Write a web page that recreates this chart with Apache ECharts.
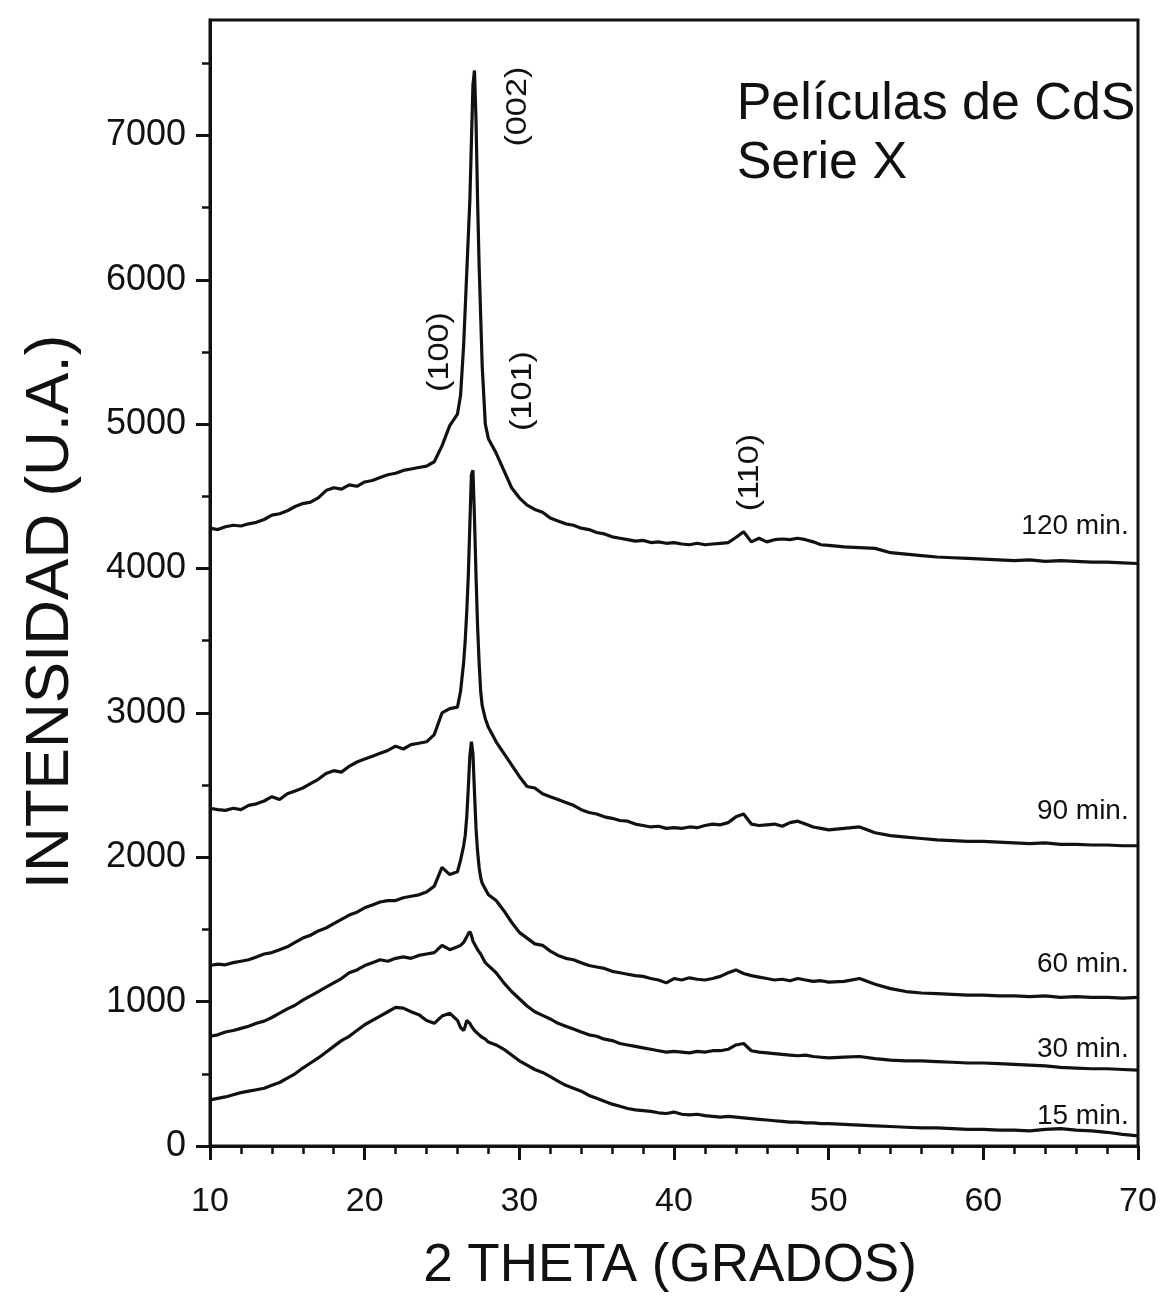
<!DOCTYPE html>
<html><head><meta charset="utf-8">
<script src="https://cdn.jsdelivr.net/npm/echarts@6/dist/echarts.min.js"></script>
<style>html,body{margin:0;padding:0;background:#fff}#c{width:1163px;height:1313px}</style>
</head><body><div id="c"></div>
<script>
// 2-theta grid (degrees)
const xs = [10,10.5,11,11.5,12,12.5,13,13.5,14,14.5,15,15.5,16,16.5,17,17.5,18,18.5,19,19.5,20,20.5,21,21.5,22,22.5,23,23.5,24,24.5,25,25.5,26,
  26.2,26.4,26.5,26.6,26.7,26.8,26.9,27,27.1,27.2,27.3,27.4,27.5,27.6,27.8,28,
  28.5,29,29.5,30,30.5,31,31.5,32,32.5,33,33.5,34,34.5,35,35.5,36,36.5,37,37.5,38,38.5,39,39.5,40,40.5,41,41.5,42,42.5,43,43.5,44,44.5,45,45.5,46,46.5,47,47.5,48,48.5,49,49.5,50,
  51,52,53,54,55,56,57,58,59,60,61,62,63,64,65,66,67,68,69,70];

const s120 = [4280,4270,4290,4300,4295,4310,4320,4340,4370,4380, 4400,4430,4450,4460,4490,4540,4560,4550,4580,4570, 4600,4610,4630,4650,4660,4680,4690,4700,4710,4740, 4850,4990,5070,
  5200,5550,5800,6050,6300,6550,6950,7350,7450,7100,6550,6100,5750,5400,5000,4900,
  4800,4680,4560,4490,4440,4410,4390,4350,4330,4310, 4300,4280,4270,4250,4240,4220,4210,4200,4190,4195, 4180,4185,4175,4180,4170,4165,4175,4165,4170,4175, 4180,4215,4255,4185,4210,4185,4200,4205,4200,4210, 4200,4185,4165,4160,
  4150,4145,4140,4110,4100,4090,4080,4075,4070,4065, 4060,4055,4060,4050,4055,4050,4045,4045,4040,4035];

const s90 = [2340,2330,2325,2340,2330,2360,2370,2390,2420,2400, 2440,2460,2480,2510,2540,2580,2600,2590,2630,2660, 2680,2700,2720,2740,2770,2750,2780,2790,2800,2850, 3000,3030,3040,
  3150,3350,3500,3700,3950,4300,4650,4680,4350,3950,3600,3350,3150,3050,2960,2900,
  2800,2720,2640,2560,2490,2480,2440,2420,2400,2380, 2360,2330,2310,2300,2280,2270,2255,2250,2230,2220, 2210,2215,2200,2205,2200,2210,2205,2220,2230,2225, 2240,2280,2300,2230,2220,2225,2230,2215,2240,2250, 2230,2210,2200,2190,
  2200,2210,2170,2150,2140,2130,2120,2115,2110,2110, 2105,2100,2095,2100,2090,2090,2085,2085,2080,2080];

const s60 = [1250,1260,1255,1270,1280,1290,1310,1330,1340,1360, 1380,1410,1440,1460,1490,1510,1540,1570,1600,1620, 1650,1670,1690,1700,1700,1720,1730,1740,1760,1800, 1930,1880,1900,
  1980,2080,2150,2280,2480,2700,2800,2720,2450,2200,2040,1930,1860,1820,1780,1740,
  1700,1630,1550,1480,1440,1400,1390,1350,1320,1300, 1290,1270,1250,1240,1230,1210,1200,1190,1180,1175, 1160,1150,1130,1160,1150,1165,1155,1150,1160,1175, 1200,1220,1195,1180,1170,1160,1150,1155,1145,1160, 1150,1140,1145,1135,
  1140,1160,1120,1090,1070,1060,1055,1050,1045,1045, 1040,1040,1035,1040,1030,1035,1030,1030,1025,1030];

const s30 = [760,770,790,800,815,830,850,865,890,920, 950,975,1010,1040,1070,1100,1130,1160,1200,1220, 1250,1270,1290,1280,1300,1310,1300,1320,1330,1340, 1390,1360,1380,
  1390,1410,1420,1450,1470,1485,1460,1420,1400,1380,1360,1345,1330,1310,1270,1250,
  1200,1130,1070,1020,970,930,905,880,850,830, 810,790,770,760,740,730,710,700,690,680, 670,660,650,655,650,645,655,650,660,660, 670,700,710,660,650,645,640,635,630,625, 630,620,615,610,
  615,620,605,595,590,590,585,580,575,575, 570,565,560,555,545,540,535,535,530,525];

const s15 = [320,330,340,355,370,380,390,400,420,440, 470,500,540,575,610,650,690,730,760,800, 840,870,900,930,960,955,930,910,870,850, 900,920,870,
  820,800,830,870,860,850,830,820,800,790,780,770,760,750,740,720,
  700,670,630,590,560,530,510,480,450,420, 400,380,350,330,310,290,275,260,250,245, 240,230,225,235,220,215,220,210,205,200, 205,200,195,190,185,180,175,170,165,165, 160,160,155,155,
  150,145,140,135,130,125,125,120,115,115, 110,110,105,115,120,110,105,95,80,70];

const seriesNames = ['120 min.','90 min.','60 min.','30 min.','15 min.'];
const seriesValues = [s120, s90, s60, s30, s15];
const yTicks = [0,1000,2000,3000,4000,5000,6000,7000];
const yMinorTicks = [500,1500,2500,3500,4500,5500,6500,7500];
const peakNames = ['(002)','(100)','(101)','(110)'];
const titleLines = ['Películas de CdS','Serie X'];
const xTitle = '2 THETA (GRADOS)';
const yTitle = 'INTENSIDAD (U.A.)';

const F = "'Liberation Sans', Arial, Helvetica, sans-serif";
const INK = '#111';
const chart = echarts.init(document.getElementById('c'));

chart.setOption({
  animation: false,
  grid: {left: 210, right: 25, top: 20, bottom: 167, show: true, borderColor: INK, borderWidth: 3, backgroundColor: 'transparent'},
  xAxis: {
    type: 'value', min: 10, max: 70, interval: 10,
    axisLine: {show: true, onZero: false, lineStyle: {color: INK, width: 3}},
    axisTick: {show: true, inside: false, length: 14, lineStyle: {color: INK, width: 3}},
    minorTick: {show: true, splitNumber: 5, length: 8, lineStyle: {color: INK, width: 2.5}},
    splitLine: {show: false},
    axisLabel: {fontFamily: F, fontSize: 34, color: INK, margin: 39}
  },
  yAxis: [{
    type: 'value', min: 0, max: 7800, interval: 1000, position: 'left',
    axisLine: {show: true, onZero: false, lineStyle: {color: INK, width: 3}},
    axisTick: {show: true, inside: false, length: 14, customValues: yTicks, lineStyle: {color: INK, width: 3}},
    splitLine: {show: false},
    axisLabel: {fontFamily: F, fontSize: 36, color: INK, margin: 24, customValues: yTicks, formatter: v => String(v)}
  }, {
    type: 'value', min: 0, max: 7800, interval: 500, position: 'left',
    axisLine: {show: false},
    axisTick: {show: true, inside: false, length: 8, customValues: yMinorTicks, lineStyle: {color: INK, width: 2.5}},
    splitLine: {show: false},
    axisLabel: {show: false}
  }],
  series: seriesNames.map((name, k) => ({
    name, type: 'line', yAxisIndex: 0, showSymbol: false, silent: true,
    lineStyle: {color: INK, width: 3.2},
    data: xs.map((x, i) => [x, seriesValues[k][i]])
  }))
});

// annotation anchors (data coordinates)
const px = (x, y) => chart.convertToPixel({gridIndex: 0}, [x, y]);
const curveLabelAnchors = [[69.4, 4290], [69.4, 2320], [69.4, 1262], [69.4, 668], [69.4, 205]];
const peakAnchors = [[29.9, 7200], [24.9, 5500], [30.25, 5230], [44.9, 4665]];
const g = [];
seriesNames.forEach((n, i) => {
  const p = px(curveLabelAnchors[i][0], curveLabelAnchors[i][1]);
  g.push({type: 'text', x: p[0], y: p[1], silent: true,
    style: {text: n, font: `28px ${F}`, fill: INK, align: 'right', verticalAlign: 'middle'}});
});
peakNames.forEach((n, i) => {
  const p = px(peakAnchors[i][0], peakAnchors[i][1]);
  g.push({type: 'text', x: p[0], y: p[1], rotation: Math.PI / 2, scaleX: 1.18, silent: true,
    style: {text: n, font: `29px ${F}`, fill: INK, align: 'center', verticalAlign: 'middle'}});
});
const t1 = px(44.05, 7215), t2 = px(44.05, 6805);
g.push({type: 'text', x: t1[0], y: t1[1], silent: true, style: {text: titleLines[0], font: `52px ${F}`, fill: INK, align: 'left', verticalAlign: 'middle'}});
g.push({type: 'text', x: t2[0], y: t2[1], silent: true, style: {text: titleLines[1], font: `52px ${F}`, fill: INK, align: 'left', verticalAlign: 'middle'}});
g.push({type: 'text', x: 670, y: 1266, silent: true, style: {text: xTitle, font: `53px ${F}`, fill: INK, align: 'center', verticalAlign: 'middle'}});
g.push({type: 'text', x: 51, y: 612, rotation: Math.PI / 2, silent: true, style: {text: yTitle, font: `62px ${F}`, fill: INK, align: 'center', verticalAlign: 'middle'}});
chart.setOption({graphic: g});
</script>
</body></html>
